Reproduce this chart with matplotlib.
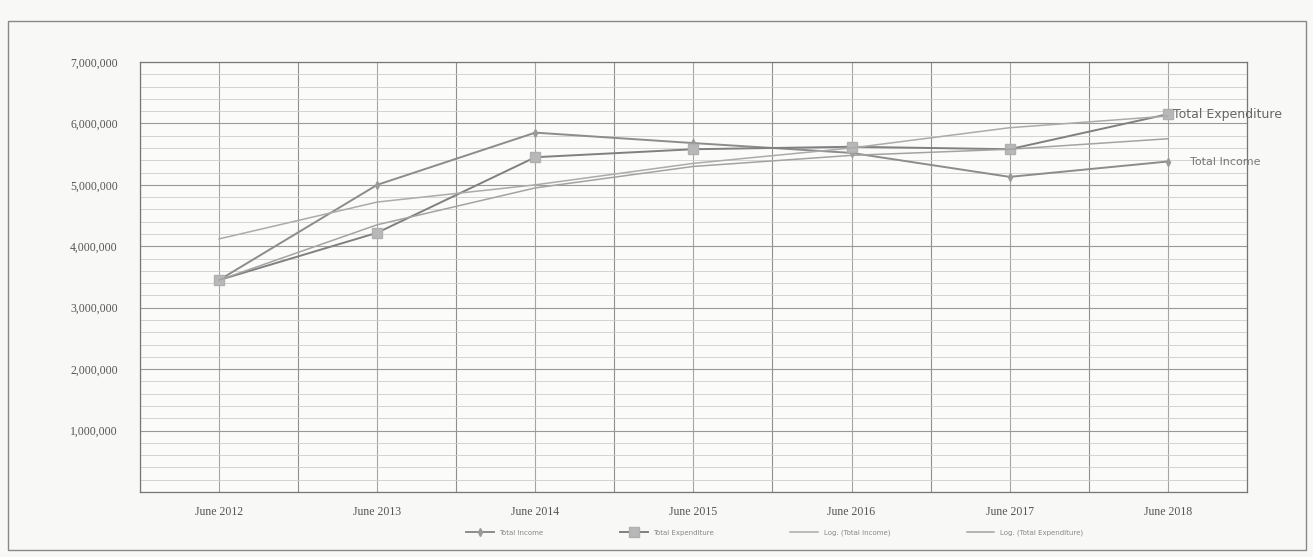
import matplotlib
matplotlib.use("Agg")
import matplotlib.pyplot as plt
from matplotlib.ticker import MultipleLocator, FuncFormatter

categories = ["June 2012", "June 2013", "June 2014", "June 2015", "June 2016", "June 2017", "June 2018"]
total_income = [3450000, 5000000, 5850000, 5680000, 5520000, 5130000, 5380000]
total_expenditure = [3450000, 4220000, 5450000, 5580000, 5620000, 5580000, 6150000]
trend_income = [4120000, 4720000, 5000000, 5350000, 5600000, 5930000, 6120000]
trend_expenditure = [3450000, 4350000, 4950000, 5300000, 5480000, 5580000, 5750000]
legend_labels = ["Total Income", "Total Expenditure", "Log. (Total Income)", "Log. (Total Expenditure)"]

fig = plt.figure(figsize=(13.13, 5.57), dpi=100, facecolor="#f8f8f6")
ax = fig.add_axes([0.1066, 0.1167, 0.843, 0.772])
ax.set_facecolor("#fbfbfa")

x = list(range(len(categories)))
l1, = ax.plot(x, total_income, color="#8c8c8c", lw=1.4, marker="d", ms=4, mfc="#9a9a9a", mec="#9a9a9a")
l2, = ax.plot(x, total_expenditure, color="#808080", lw=1.4, marker="s", ms=7, mfc="#b8b8b8", mec="#b0b0b0")
l3, = ax.plot(x, trend_income, color="#ababab", lw=1.1)
l4, = ax.plot(x, trend_expenditure, color="#a3a3a3", lw=1.1)

ax.set_xlim(-0.5, len(categories) - 0.5)
ax.set_ylim(0, 7000000)
ax.set_xticks(x)
ax.set_xticklabels(categories, fontsize=8.5, color="#555555", family="Liberation Serif")
ax.yaxis.set_major_locator(MultipleLocator(1000000))
ax.yaxis.set_minor_locator(MultipleLocator(200000))
ax.yaxis.set_major_formatter(FuncFormatter(lambda v, p: "" if v == 0 else f"{int(v):,}"))
for t in ax.get_yticklabels():
    t.set_fontsize(8.5)
    t.set_color("#555555")
    t.set_family("Liberation Serif")
ax.set_xticks([i + 0.5 for i in range(-1, len(categories))], minor=True)
ax.tick_params(axis="both", which="both", length=0)
ax.tick_params(axis="y", pad=16)
ax.tick_params(axis="x", pad=10)

ax.grid(True, which="major", axis="y", color="#999999", lw=0.8)
ax.grid(True, which="minor", axis="y", color="#cdcdcd", lw=0.6)
ax.grid(True, which="major", axis="x", color="#a5a5a5", lw=0.8)
ax.grid(True, which="minor", axis="x", color="#8f8f8f", lw=0.8)
ax.set_axisbelow(True)
for s in ax.spines.values():
    s.set_color("#777777")
    s.set_linewidth(0.9)

ax.annotate("Total Expenditure", (x[-1], total_expenditure[-1]), xytext=(4, 0),
            textcoords="offset points", fontsize=9, color="#666666", va="center")
ax.annotate("Total Income", (x[-1], total_income[-1]), xytext=(16, 0),
            textcoords="offset points", fontsize=8, color="#777777", va="center")

fig.legend([l1, l2, l3, l4], legend_labels, loc="center", bbox_to_anchor=(0.59, 0.043),
           ncol=4, frameon=False, fontsize=5, handlelength=4, columnspacing=11,
           labelcolor="#888888")

border = plt.Rectangle((0.006, 0.012), 0.989, 0.95, transform=fig.transFigure,
                       fill=False, edgecolor="#888888", lw=1.0)
fig.add_artist(border)

fig.savefig("out.png", dpi=100, facecolor=fig.get_facecolor())
